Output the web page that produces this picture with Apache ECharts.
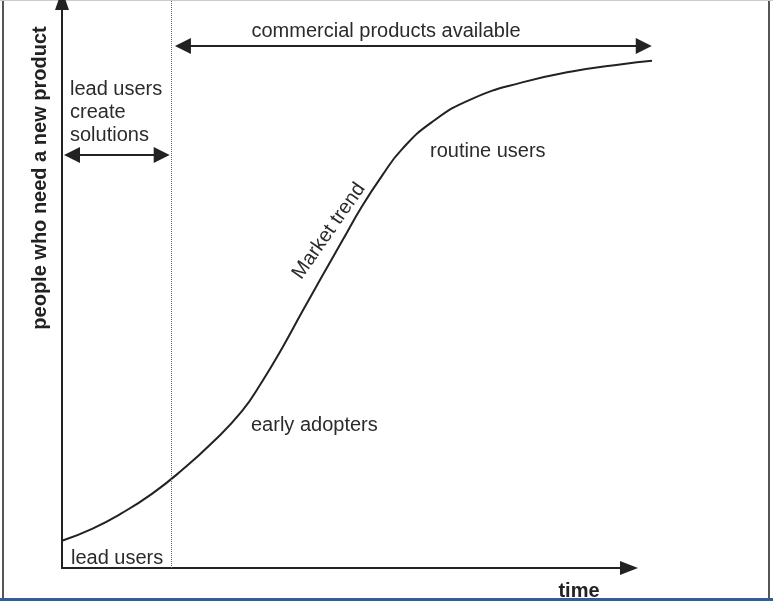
<!DOCTYPE html>
<html><head><meta charset="utf-8">
<script src="https://cdn.jsdelivr.net/npm/echarts@6/dist/echarts.min.js"></script>
<style>html,body{margin:0;padding:0;background:#fff}#c{width:773px;height:601px}</style>
</head><body><div id="c"></div>
<script>
// time (0-100) and share of people who need a new product (0-100)
const timeX   = [0, 5.1, 10.2, 15.3, 20.3, 25.4, 30.5, 33.9, 37.3, 40.7, 44.1, 47.5, 50.8, 54.2, 57.6, 62.7, 69.5, 78.0, 86.4, 94.9, 100];
const peopleY = [4.8, 6.9, 9.7, 13.1, 17.2, 22.0, 27.6, 32.8, 38.7, 45.1, 51.4, 57.6, 63.6, 69.0, 73.7, 78.5, 82.6, 85.5, 87.4, 88.7, 89.3];
const leadPhaseEnd = [18.5];
const leadArrow = [[1.7, 72.7], [16.9, 72.7]];
const commercialArrow = [[20.5, 91.9], [98.6, 91.9]];
const yTitle = 'people who need a new product';
const xTitle = 'time';

const FONT = '"Liberation Sans", Arial, sans-serif';
const TXT = '#2b2b2b';
const chart = echarts.init(document.getElementById('c'), null, {renderer: 'canvas'});
const txt = (x, y, text, extra, rot) => ({
  type: 'text', x: x, y: y, rotation: rot || 0,
  style: Object.assign({text: text, fill: TXT, font: '20px ' + FONT, textAlign: 'left', textVerticalAlign: 'middle'}, extra || {})
});
chart.setOption({
  animation: false,
  backgroundColor: '#fff',
  grid: [
    {left: 62, right: 121, top: 0, bottom: 33},
    {left: 62, right: 144, top: 0, bottom: 33}
  ],
  xAxis: [
    {type: 'value', gridIndex: 0, min: 0, max: 100, show: false},
    {type: 'value', gridIndex: 1, min: 0, max: 100, axisLabel: {show: false}, axisTick: {show: false}, splitLine: {show: false},
     axisLine: {show: true, symbol: ['none', 'triangle'], symbolSize: [14, 18], lineStyle: {color: '#222', width: 2}}}
  ],
  yAxis: [
    {type: 'value', gridIndex: 0, min: 0, max: 100, axisLabel: {show: false}, axisTick: {show: false}, splitLine: {show: false},
     axisLine: {show: true, symbol: ['none', 'triangle'], symbolSize: [14, 20], lineStyle: {color: '#222', width: 2}}},
    {type: 'value', gridIndex: 1, min: 0, max: 100, show: false}
  ],
  series: [{
    type: 'line', xAxisIndex: 0, yAxisIndex: 0,
    data: timeX.map((x, i) => [x, peopleY[i]]),
    smooth: 0.5, showSymbol: false, symbol: 'none',
    lineStyle: {color: '#222', width: 2},
    markLine: {
      silent: true, animation: false, symbol: 'none',
      data: [
        [{coord: [leadPhaseEnd[0], 0], symbol: 'none'}, {coord: [leadPhaseEnd[0], 100], symbol: 'none', lineStyle: {type: 'dotted', color: '#666', width: 1}}],
        [{coord: leadArrow[0], symbol: 'triangle', symbolSize: 16}, {coord: leadArrow[1], symbol: 'triangle', symbolSize: 16}],
        [{coord: commercialArrow[0], symbol: 'triangle', symbolSize: 16}, {coord: commercialArrow[1], symbol: 'triangle', symbolSize: 16}]
      ],
      lineStyle: {type: 'solid', color: '#222', width: 2},
      label: {show: false}
    }
  }],
  graphic: [
    {type: 'rect', shape: {x: 2, y: 0, width: 2, height: 599}, style: {fill: '#555'}},
    {type: 'rect', shape: {x: 768, y: 0, width: 2, height: 599}, style: {fill: '#555'}},
    {type: 'rect', shape: {x: 0, y: 0, width: 773, height: 1}, style: {fill: '#ccc'}},
    {type: 'rect', shape: {x: 0, y: 598, width: 773, height: 3}, style: {fill: '#2e5f9a'}},
    txt(386, 31, 'commercial products available', {textAlign: 'center'}),
    txt(70, 89, 'lead users'),
    txt(70, 112, 'create'),
    txt(70, 135, 'solutions'),
    txt(430, 151, 'routine users'),
    txt(251, 425, 'early adopters'),
    txt(71, 558, 'lead users'),
    txt(579, 591, xTitle, {textAlign: 'center', font: 'bold 20px ' + FONT, fill: '#222'}),
    txt(40, 178, yTitle, {textAlign: 'center', font: 'bold 20px ' + FONT, fill: '#222'}, Math.PI / 2),
    txt(329, 231, 'Market trend', {textAlign: 'center'}, 55 * Math.PI / 180)
  ]
});
</script></body></html>
